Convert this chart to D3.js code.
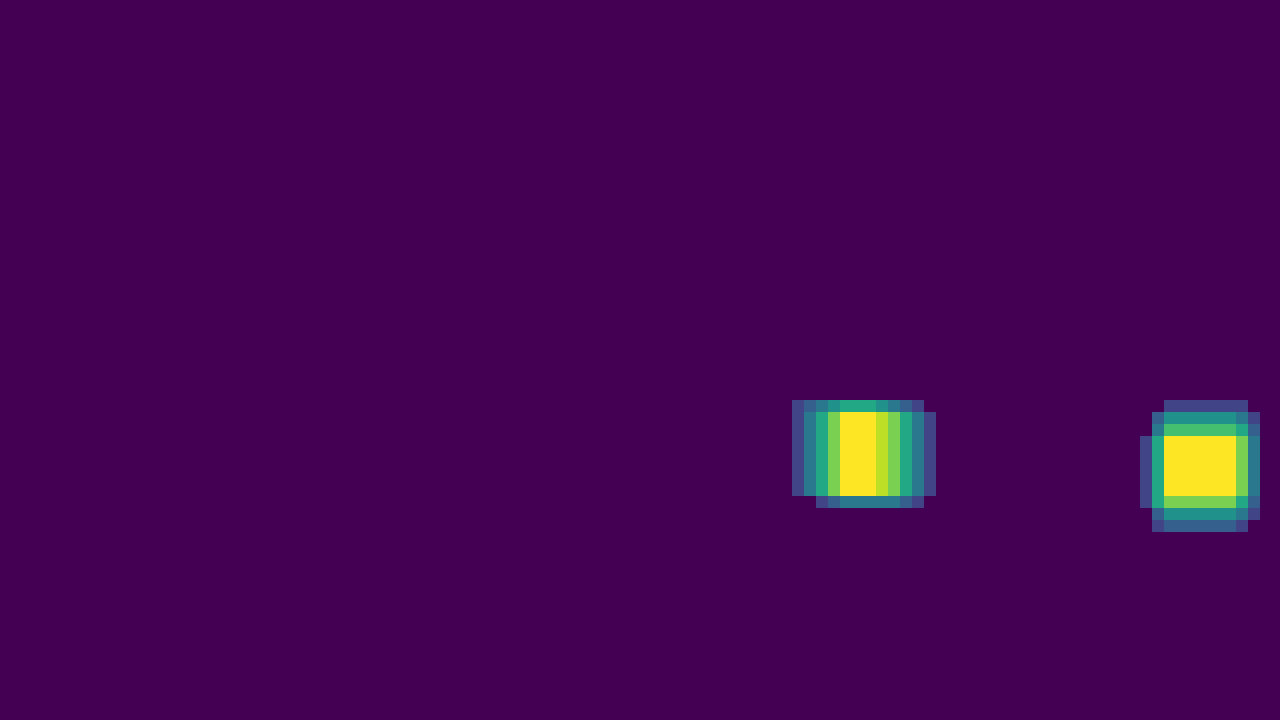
<!DOCTYPE html>
<html>
<head>
<meta charset="utf-8">
<script src="https://cdn.jsdelivr.net/npm/d3@7"></script>
<style>
  html, body { margin: 0; padding: 0; background: #440154; overflow: hidden; }
  svg { display: block; }
</style>
</head>
<body>
<svg id="chart" width="1280" height="720"></svg>
<script>
// Grid: each row run = [rowIndex, startColumn, values...]; values on a 0..10 scale
const maxValue = 10;

const blobLeft = [
  [33, 66, [2, 3, 4, 5, 6, 6, 6, 5, 4, 3, 2]],
  [34, 66, [2, 4, 6, 8, 10, 10, 10, 9, 8, 6, 4, 2]],
  [35, 66, [2, 4, 6, 8, 10, 10, 10, 9, 8, 6, 4, 2]],
  [36, 66, [2, 4, 6, 8, 10, 10, 10, 9, 8, 6, 4, 2]],
  [37, 66, [2, 4, 6, 8, 10, 10, 10, 9, 8, 6, 4, 2]],
  [38, 66, [2, 4, 6, 8, 10, 10, 10, 9, 8, 6, 4, 2]],
  [39, 66, [2, 4, 6, 8, 10, 10, 10, 9, 8, 6, 4, 2]],
  [40, 66, [2, 4, 6, 8, 10, 10, 10, 9, 8, 6, 4, 2]],
  [41, 68, [2, 3, 4, 4, 4, 4, 4, 3, 2]]
];

const blobRight = [
  [33, 97, [2, 2, 2, 2, 2, 2, 2]],
  [34, 96, [3, 5, 5, 5, 5, 5, 5, 4, 2]],
  [35, 96, [4, 7, 7, 7, 7, 7, 7, 6, 3]],
  [36, 95, [2, 6, 10, 10, 10, 10, 10, 10, 8, 4]],
  [37, 95, [2, 6, 10, 10, 10, 10, 10, 10, 8, 4]],
  [38, 95, [2, 6, 10, 10, 10, 10, 10, 10, 8, 4]],
  [39, 95, [2, 6, 10, 10, 10, 10, 10, 10, 8, 4]],
  [40, 95, [2, 6, 10, 10, 10, 10, 10, 10, 8, 4]],
  [41, 95, [2, 6, 8, 8, 8, 8, 8, 8, 6, 3]],
  [42, 96, [3, 5, 5, 5, 5, 5, 5, 4, 2]],
  [43, 96, [2, 3, 3, 3, 3, 3, 3, 2]]
];

const nCols = 107;
const nRows = 60;

const width = 1280, height = 720;
const svg = d3.select("#chart");

const x = d3.scaleLinear().domain([0, nCols]).range([0, nCols * 12]);
const y = d3.scaleLinear().domain([0, nRows]).range([4, 4 + nRows * 12]);
const color = d3.scaleSequential(d3.interpolateViridis).domain([0, maxValue]);

// background = zero-valued cells
svg.append("rect")
  .attr("x", 0).attr("y", 0)
  .attr("width", width).attr("height", height)
  .attr("fill", color(0));

const cells = [];
[blobLeft, blobRight].forEach(blob => {
  blob.forEach(([r, c0, vals]) => {
    vals.forEach((v, i) => cells.push({ row: r, col: c0 + i, value: v }));
  });
});

svg.append("g")
  .selectAll("rect")
  .data(cells)
  .join("rect")
  .attr("x", d => x(d.col))
  .attr("y", d => y(d.row))
  .attr("width", d => x(d.col + 1) - x(d.col))
  .attr("height", d => y(d.row + 1) - y(d.row))
  .attr("fill", d => color(d.value))
  .attr("shape-rendering", "crispEdges");
</script>
</body>
</html>
